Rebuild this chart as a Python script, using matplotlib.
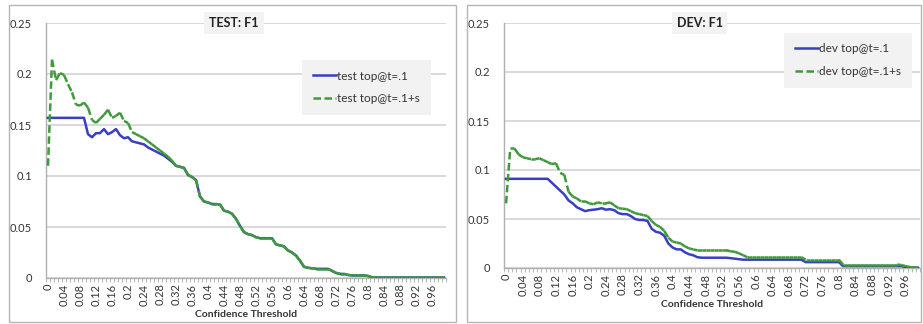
import numpy as np
from matplotlib import pyplot as plt
from matplotlib.patches import Rectangle
from matplotlib.collections import LineCollection

# thresholds 0, 0.01, ... 0.99 (category axis, label every 4th)
thresholds = [round(0.01 * k, 2) for k in range(100)]
tick_labels = ['0', '0.04', '0.08', '0.12', '0.16', '0.2', '0.24', '0.28', '0.32', '0.36',
               '0.4', '0.44', '0.48', '0.52', '0.56', '0.6', '0.64', '0.68', '0.72', '0.76',
               '0.8', '0.84', '0.88', '0.92', '0.96']

test_top = [0.157, 0.157, 0.157, 0.157, 0.157, 0.157, 0.157, 0.157, 0.157, 0.157,
            0.141, 0.138, 0.142, 0.142, 0.146, 0.141, 0.143, 0.146, 0.140, 0.137,
            0.138, 0.134, 0.133, 0.132, 0.131, 0.128, 0.126, 0.124, 0.122, 0.120,
            0.117, 0.114, 0.110, 0.109, 0.108, 0.101, 0.099, 0.096, 0.080, 0.075,
            0.074, 0.0725, 0.0725, 0.072, 0.066, 0.065, 0.063, 0.058, 0.051, 0.045,
            0.043, 0.042, 0.040, 0.039, 0.039, 0.039, 0.039, 0.033, 0.032, 0.031,
            0.027, 0.025, 0.022, 0.017, 0.011, 0.010, 0.0095, 0.009, 0.009, 0.009,
            0.009, 0.007, 0.005, 0.004, 0.004, 0.003, 0.0025, 0.0025, 0.0025, 0.0025,
            0.002, 0.0007, 0.0005, 0.0005, 0.0005, 0.0005, 0.0005, 0.0005, 0.0005, 0.0005,
            0.0005, 0.0005, 0.0005, 0.0005, 0.0005, 0.0005, 0.0005, 0.0005, 0.0005, 0.0005]

test_top_s = [0.110, 0.214, 0.194, 0.201, 0.199, 0.190, 0.182, 0.170, 0.169, 0.172,
              0.167, 0.155, 0.152, 0.156, 0.160, 0.165, 0.157, 0.159, 0.162, 0.154,
              0.152, 0.143, 0.141, 0.139, 0.137, 0.134, 0.131, 0.128, 0.125, 0.122,
              0.119, 0.115, 0.110, 0.109, 0.108, 0.101, 0.099, 0.096, 0.080, 0.075,
              0.074, 0.0725, 0.0725, 0.072, 0.066, 0.065, 0.063, 0.058, 0.051, 0.045,
              0.043, 0.042, 0.040, 0.039, 0.039, 0.039, 0.039, 0.033, 0.032, 0.031,
              0.027, 0.025, 0.022, 0.017, 0.011, 0.010, 0.0095, 0.009, 0.009, 0.009,
              0.009, 0.007, 0.005, 0.004, 0.004, 0.003, 0.0025, 0.0025, 0.0025, 0.0025,
              0.002, 0.0007, 0.0005, 0.0005, 0.0005, 0.0005, 0.0005, 0.0005, 0.0005, 0.0005,
              0.0005, 0.0005, 0.0005, 0.0005, 0.0005, 0.0005, 0.0005, 0.0005, 0.0005, 0.0005]

dev_top = [0.091, 0.091, 0.091, 0.091, 0.091, 0.091, 0.091, 0.091, 0.091, 0.091,
           0.091, 0.087, 0.083, 0.079, 0.075, 0.069, 0.066, 0.062, 0.060, 0.058,
           0.059, 0.0595, 0.060, 0.061, 0.0595, 0.060, 0.059, 0.056, 0.055, 0.055,
           0.053, 0.050, 0.049, 0.049, 0.048, 0.040, 0.037, 0.036, 0.033, 0.025,
           0.021, 0.019, 0.019, 0.016, 0.014, 0.013, 0.011, 0.0105, 0.0105, 0.0105,
           0.0105, 0.0105, 0.0105, 0.0105, 0.010, 0.0095, 0.009, 0.0085, 0.0085, 0.0085,
           0.0085, 0.0085, 0.0085, 0.0085, 0.0085, 0.0085, 0.0085, 0.0085, 0.0085, 0.0085,
           0.0085, 0.0085, 0.006, 0.006, 0.006, 0.006, 0.006, 0.006, 0.006, 0.006,
           0.006, 0.002, 0.002, 0.002, 0.002, 0.002, 0.002, 0.002, 0.002, 0.002,
           0.002, 0.002, 0.002, 0.002, 0.002, 0.002, 0.001, 0.0005, 0.0005, 0.0003]

dev_top_s = [0.066, 0.122, 0.122, 0.116, 0.113, 0.112, 0.111, 0.111, 0.112, 0.110,
             0.108, 0.106, 0.107, 0.097, 0.095, 0.078, 0.073, 0.071, 0.068, 0.068,
             0.066, 0.065, 0.067, 0.066, 0.066, 0.067, 0.064, 0.061, 0.0605, 0.060,
             0.058, 0.056, 0.055, 0.054, 0.053, 0.048, 0.044, 0.042, 0.038, 0.031,
             0.027, 0.026, 0.025, 0.022, 0.020, 0.019, 0.018, 0.018, 0.018, 0.018,
             0.018, 0.018, 0.018, 0.018, 0.017, 0.0165, 0.015, 0.013, 0.011, 0.011,
             0.011, 0.011, 0.011, 0.011, 0.011, 0.011, 0.011, 0.011, 0.011, 0.011,
             0.011, 0.011, 0.0085, 0.0085, 0.0085, 0.0085, 0.0085, 0.0085, 0.0085, 0.0085,
             0.0085, 0.0035, 0.0035, 0.0035, 0.0035, 0.0035, 0.0035, 0.0035, 0.0035, 0.0035,
             0.0035, 0.0035, 0.0035, 0.0035, 0.0035, 0.003, 0.002, 0.001, 0.0005, 0.0003]

BLUE = '#3a3ec2'
GREEN = '#3f9a3c'
GRID = '#cfcfcf'
DASH = (0, (3, 1.4))
plt.rcParams['font.family'] = ['Lato', 'DejaVu Sans']

W, H = 923, 324
fig = plt.figure(figsize=(W / 100, H / 100), dpi=100)

def px(x0, y0, x1, y1):
    # pixel box (top-left origin) -> figure fraction rect
    return [x0 / W, 1 - y1 / H, (x1 - x0) / W, (y1 - y0) / H]

# panel borders
for bx0, bx1 in [(9, 456), (467, 921)]:
    fig.patches.append(Rectangle((bx0 / W, 1 - 322 / H), (bx1 - bx0) / W, 317 / H,
                                 transform=fig.transFigure, fill=False,
                                 edgecolor='#b5b5b5', lw=1.0))

def panel(rect, y1, y2, lab1, lab2, title, leg_anchor):
    ax = fig.add_axes(rect)
    xs = np.arange(len(thresholds)) + 0.5
    ax.plot(xs, y1, color=BLUE, lw=1.8, label=lab1, zorder=3)
    # excel restarts the dash on every segment, so short steps look solid
    pts = np.column_stack([xs, y2])
    segs = np.stack([pts[:-1], pts[1:]], axis=1)
    ax.add_collection(LineCollection(segs, colors=GREEN, linewidths=1.8,
                                     linestyles=[DASH], capstyle='butt', zorder=4))
    ax.plot([], [], color=GREEN, lw=1.8, ls=DASH, label=lab2)
    ax.set_xlim(0, len(thresholds))
    ax.set_ylim(0, 0.25)
    ax.set_yticks([0, 0.05, 0.1, 0.15, 0.2, 0.25])
    ax.set_yticklabels(['0', '0.05', '0.1', '0.15', '0.2', '0.25'], fontsize=8, color='#333333')
    ax.yaxis.grid(True, color=GRID, lw=1.1)
    ax.set_axisbelow(True)
    ax.tick_params(axis='y', length=0, pad=10)
    ax.set_xticks(np.arange(0, len(thresholds), 4) + 0.5)
    ax.set_xticklabels(tick_labels, rotation=90, fontsize=8, color='#333333')
    ax.set_xticks(np.arange(0, len(thresholds) + 1), minor=True)
    ax.tick_params(axis='x', which='major', length=0, pad=4)
    ax.tick_params(axis='x', which='minor', length=3, width=0.6, color='#aaaaaa')
    for s in ['top', 'right']:
        ax.spines[s].set_visible(False)
    for s in ['left', 'bottom']:
        ax.spines[s].set_color('#b0b0b0')
        ax.spines[s].set_linewidth(1.0)
    ax.set_xlabel('Confidence Threshold', fontsize=7.5, fontweight='bold', color='#333333', labelpad=3)
    ax.text(0.47, 1.0, title, transform=ax.transAxes, ha='center', va='center',
            fontsize=9, fontweight='bold', color='#222222', zorder=5,
            bbox=dict(facecolor='#f3f3f3', edgecolor='none', pad=3.5))
    leg = ax.legend(loc='upper left', bbox_to_anchor=leg_anchor, fontsize=8.5,
                    frameon=True, fancybox=False, handlelength=2.0, handletextpad=0.1,
                    labelspacing=1.0, borderpad=0.9, borderaxespad=0,
                    facecolor='#f2f2f2', edgecolor='none', framealpha=1.0)
    for t in leg.get_texts():
        t.set_color('#333333')
    return ax

ax1 = panel(px(46, 23, 446, 278), test_top, test_top_s,
            'test top@t=.1', 'test top@t=.1+s', 'TEST: F1', (0.64, 0.855))
ax2 = panel(px(504, 23, 920, 268), dev_top, dev_top_s,
            'dev top@t=.1', 'dev top@t=.1+s', 'DEV: F1', (0.673, 0.96))

fig.savefig('out.png', dpi=100)
